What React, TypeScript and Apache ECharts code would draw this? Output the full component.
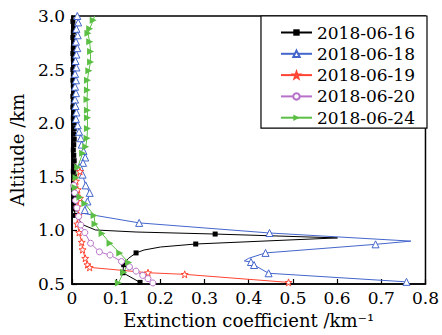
import React, { useEffect, useRef } from "react";
import * as echarts from "echarts";

const seriesNames = ["2018-06-16", "2018-06-18", "2018-06-19", "2018-06-20", "2018-06-24"];

// [extinction coefficient (km^-1), altitude (km)]
const data0616: number[][] = [
  [0.003, 3.0], [0.002, 2.95], [0.004, 2.9], [0.003, 2.85], [0.002, 2.8], [0.004, 2.75], [0.003, 2.7],
  [0.002, 2.65], [0.003, 2.6], [0.004, 2.55], [0.002, 2.5], [0.003, 2.45], [0.002, 2.4], [0.003, 2.35],
  [0.004, 2.3], [0.002, 2.25], [0.003, 2.2], [0.002, 2.15], [0.004, 2.1], [0.003, 2.05], [0.004, 2.0],
  [0.005, 1.95], [0.004, 1.9], [0.005, 1.85], [0.004, 1.8], [0.003, 1.75], [0.004, 1.7], [0.005, 1.65],
  [0.004, 1.6], [0.003, 1.55], [0.005, 1.5], [0.004, 1.45], [0.003, 1.4], [0.004, 1.35], [0.005, 1.3],
  [0.004, 1.25], [0.005, 1.2], [0.007, 1.14], [0.026, 1.05], [0.053, 1.004], [0.145, 0.985],
  [0.324, 0.966], [0.601, 0.93], [0.28, 0.873], [0.2, 0.845], [0.163, 0.817], [0.145, 0.79],
  [0.128, 0.74], [0.119, 0.7], [0.117, 0.68], [0.115, 0.605], [0.154, 0.515],
];
const data0618: number[][] = [
  [0.012, 3.0], [0.014, 2.94], [0.01, 2.88], [0.013, 2.82], [0.009, 2.76], [0.012, 2.7], [0.01, 2.64],
  [0.008, 2.58], [0.01, 2.52], [0.007, 2.46], [0.009, 2.4], [0.007, 2.34], [0.009, 2.28], [0.007, 2.22],
  [0.008, 2.16], [0.01, 2.1], [0.009, 2.04], [0.013, 1.98], [0.016, 1.92], [0.02, 1.86], [0.022, 1.8],
  [0.026, 1.74], [0.03, 1.68], [0.025, 1.63], [0.018, 1.59], [0.024, 1.52], [0.031, 1.42], [0.04, 1.35],
  [0.035, 1.27], [0.029, 1.19], [0.024, 1.16], [0.152, 1.07], [0.447, 0.976], [0.767, 0.9],
  [0.687, 0.87], [0.438, 0.79], [0.4, 0.74], [0.39, 0.715], [0.405, 0.705], [0.412, 0.677],
  [0.445, 0.6], [0.757, 0.52],
];
const data0619: number[][] = [
  [0.018, 1.55], [0.009, 1.46], [0.013, 1.38], [0.018, 1.3], [0.012, 1.22], [0.015, 1.14], [0.012, 1.06],
  [0.016, 0.98], [0.022, 0.89], [0.024, 0.82], [0.03, 0.74], [0.035, 0.68], [0.04, 0.655],
  [0.172, 0.605], [0.255, 0.59], [0.49, 0.515],
];
const data0620: number[][] = [
  [0.004, 1.42], [0.006, 1.35], [0.008, 1.28], [0.011, 1.21], [0.015, 1.13], [0.02, 1.05], [0.029, 0.98],
  [0.042, 0.88], [0.062, 0.8], [0.086, 0.77], [0.112, 0.71], [0.13, 0.66], [0.145, 0.62], [0.16, 0.58],
  [0.172, 0.55], [0.183, 0.51],
];
const data0624: number[][] = [
  [0.051, 3.0], [0.048, 2.96], [0.04, 2.88], [0.036, 2.84], [0.04, 2.76], [0.042, 2.67], [0.042, 2.57],
  [0.038, 2.49], [0.035, 2.4], [0.035, 2.31], [0.034, 2.22], [0.035, 2.12], [0.035, 2.05], [0.035, 1.95],
  [0.034, 1.86], [0.031, 1.78], [0.024, 1.72], [0.013, 1.59], [0.009, 1.49], [0.007, 1.4], [0.018, 1.31],
  [0.029, 1.25], [0.05, 1.14], [0.052, 1.06], [0.068, 0.97], [0.086, 0.88], [0.108, 0.79], [0.128, 0.7],
  [0.117, 0.61], [0.105, 0.51],
];

// vertices of the curves that carry no marker in the reference (bends between markers)
const bendVertices: number[][] = [
  [0.003, 3.0], [0.026, 1.05], [0.053, 1.004], [0.145, 0.985], [0.601, 0.93], [0.2, 0.845], [0.163, 0.817],
  [0.128, 0.74], [0.119, 0.7], [0.4, 0.74], [0.39, 0.715], [0.767, 0.9], [0.024, 1.16],
  [0.051, 3.0],
];

const xTicks = { min: 0, max: 0.8, interval: 0.1 };
const yTicks = { min: 0.5, max: 3.0, interval: 0.5 };

const STAR =
  "path://M0,-1L0.235,-0.324L0.951,-0.309L0.38,0.124L0.588,0.809L0,0.4L-0.588,0.809L-0.38,0.124L-0.951,-0.309L-0.235,-0.324Z";

const FONT = "DejaVu Serif";

export default function App() {
  const ref = useRef<HTMLDivElement>(null);
  useEffect(() => {
    if (!ref.current) return;
    const chart = echarts.init(ref.current, undefined, { renderer: "svg" });
    const bendKeys = new Set(bendVertices.map((p) => p[0] + "," + p[1]));
    const mk = (
      name: string,
      data: number[][],
      color: string,
      symbol: string,
      size: number,
      hollow: boolean,
      rotate = 0
    ) => ({
      name,
      type: "line",
      data,
      symbol,
      symbolSize: (v: number[]) => (bendKeys.has(v[0] + "," + v[1]) ? 0 : size),
      symbolRotate: rotate,
      showSymbol: true,
      lineStyle: { color, width: 1 },
      itemStyle: hollow
        ? { color: "#fff", borderColor: color, borderWidth: 1 }
        : { color, borderColor: color, borderWidth: 0 },
      emphasis: { disabled: true },
      z: 3,
    });
    chart.setOption({
      animation: false,
      backgroundColor: "#fff",
      textStyle: { fontFamily: FONT },
      grid: {
        left: 64,
        right: 15,
        top: 16,
        bottom: 51,
        show: true,
        borderColor: "#000",
        borderWidth: 1.5,
        backgroundColor: "transparent",
      },
      legend: {
        orient: "vertical",
        right: 15,
        top: 16,
        padding: [8, 12, 2, 19],
        itemWidth: 31,
        itemHeight: 8,
        itemGap: 4.3,
        borderColor: "#000",
        borderWidth: 1.2,
        backgroundColor: "#fff",
        textStyle: { fontFamily: FONT, fontSize: 17, color: "#000", lineHeight: 17 },
        data: seriesNames,
      },
      xAxis: {
        type: "value",
        ...xTicks,
        name: "Extinction coefficient /km⁻¹",
        nameLocation: "middle",
        nameGap: 27,
        nameTextStyle: { fontFamily: FONT, fontSize: 18, color: "#000" },
        axisLine: { show: true, lineStyle: { color: "#000", width: 1.5 } },
        axisTick: { show: true, inside: true, length: 5, lineStyle: { color: "#000", width: 1.2 } },
        axisLabel: { fontFamily: FONT, fontSize: 17, color: "#000", margin: 5 },
        splitLine: { show: false },
      },
      yAxis: {
        type: "value",
        ...yTicks,
        name: "Altitude /km",
        nameLocation: "middle",
        nameGap: 46,
        nameTextStyle: { fontFamily: FONT, fontSize: 18, color: "#000" },
        axisLine: { show: true, lineStyle: { color: "#000", width: 1.5 } },
        axisTick: { show: true, inside: true, length: 5, lineStyle: { color: "#000", width: 1.2 } },
        axisLabel: {
          fontFamily: FONT,
          fontSize: 17,
          color: "#000",
          margin: 7,
          formatter: (v: number) => v.toFixed(1),
        },
        splitLine: { show: false },
      },
      series: [
        mk(seriesNames[0], data0616, "#000000", "rect", 5, false),
        mk(seriesNames[1], data0618, "#4466cc", "triangle", 7, true),
        mk(seriesNames[2], data0619, "#ff4433", STAR, 7, true),
        mk(seriesNames[3], data0620, "#b672c8", "circle", 6, true),
        mk(seriesNames[4], data0624, "#5cbf45", "triangle", 7, false, -90),
      ],
    });
    return () => chart.dispose();
  }, []);
  return (
    <div
      ref={ref}
      style={{ position: "absolute", left: 0, top: 0, width: 442, height: 335 }}
    />
  );
}
